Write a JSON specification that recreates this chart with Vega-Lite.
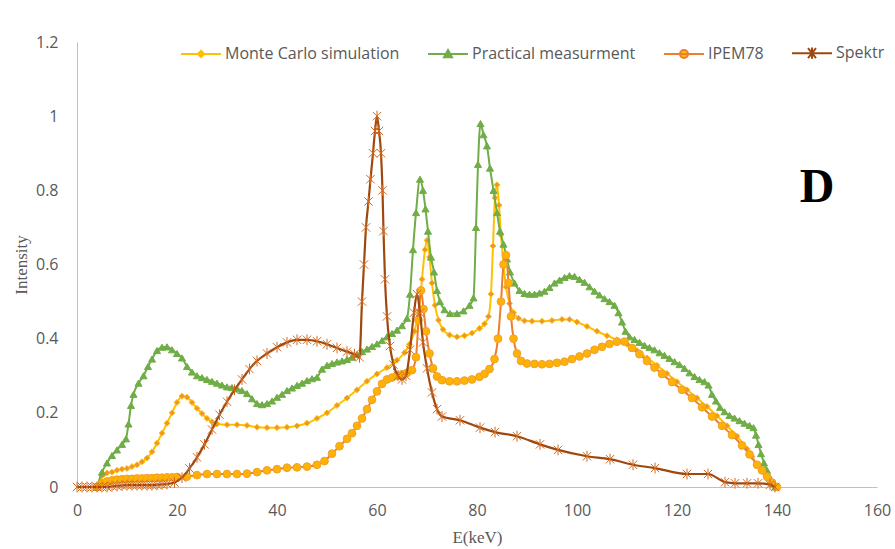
{
  "$schema": "https://vega.github.io/schema/vega-lite/v6.json",
  "width": 800,
  "height": 445,
  "autosize": {"type": "none"},
  "padding": {"left": 77, "top": 42, "right": 18, "bottom": 62},
  "background": "white",
  "config": {"view": {"stroke": null}, "font": "Open Sans"},
  "data": {"values": [
    {"s":"Monte Carlo simulation","E":4,"I":0},{"s":"Monte Carlo simulation","E":5,"I":0.03},{"s":"Monte Carlo simulation","E":6,"I":0.038},{"s":"Monte Carlo simulation","E":7,"I":0.04},{"s":"Monte Carlo simulation","E":8,"I":0.045},{"s":"Monte Carlo simulation","E":9,"I":0.048},{"s":"Monte Carlo simulation","E":10,"I":0.05},{"s":"Monte Carlo simulation","E":11,"I":0.055},{"s":"Monte Carlo simulation","E":12,"I":0.06},{"s":"Monte Carlo simulation","E":13,"I":0.068},{"s":"Monte Carlo simulation","E":14,"I":0.078},{"s":"Monte Carlo simulation","E":15,"I":0.095},{"s":"Monte Carlo simulation","E":16,"I":0.118},{"s":"Monte Carlo simulation","E":17,"I":0.145},{"s":"Monte Carlo simulation","E":18,"I":0.172},{"s":"Monte Carlo simulation","E":19,"I":0.2},{"s":"Monte Carlo simulation","E":20,"I":0.228},{"s":"Monte Carlo simulation","E":21,"I":0.245},{"s":"Monte Carlo simulation","E":22,"I":0.242},{"s":"Monte Carlo simulation","E":23,"I":0.228},{"s":"Monte Carlo simulation","E":24,"I":0.212},{"s":"Monte Carlo simulation","E":25,"I":0.198},{"s":"Monte Carlo simulation","E":26,"I":0.185},{"s":"Monte Carlo simulation","E":27,"I":0.176},{"s":"Monte Carlo simulation","E":28,"I":0.17},{"s":"Monte Carlo simulation","E":30,"I":0.168},{"s":"Monte Carlo simulation","E":32,"I":0.168},{"s":"Monte Carlo simulation","E":34,"I":0.166},{"s":"Monte Carlo simulation","E":36,"I":0.161},{"s":"Monte Carlo simulation","E":38,"I":0.16},{"s":"Monte Carlo simulation","E":40,"I":0.16},{"s":"Monte Carlo simulation","E":42,"I":0.161},{"s":"Monte Carlo simulation","E":44,"I":0.165},{"s":"Monte Carlo simulation","E":46,"I":0.172},{"s":"Monte Carlo simulation","E":48,"I":0.185},{"s":"Monte Carlo simulation","E":50,"I":0.2},{"s":"Monte Carlo simulation","E":52,"I":0.22},{"s":"Monte Carlo simulation","E":54,"I":0.24},{"s":"Monte Carlo simulation","E":56,"I":0.262},{"s":"Monte Carlo simulation","E":58,"I":0.285},{"s":"Monte Carlo simulation","E":60,"I":0.305},{"s":"Monte Carlo simulation","E":62,"I":0.322},{"s":"Monte Carlo simulation","E":64,"I":0.342},{"s":"Monte Carlo simulation","E":65.5,"I":0.362},{"s":"Monte Carlo simulation","E":66.5,"I":0.385},{"s":"Monte Carlo simulation","E":67.5,"I":0.42},{"s":"Monte Carlo simulation","E":68.3,"I":0.47},{"s":"Monte Carlo simulation","E":69,"I":0.56},{"s":"Monte Carlo simulation","E":69.6,"I":0.64},{"s":"Monte Carlo simulation","E":70,"I":0.665},{"s":"Monte Carlo simulation","E":70.5,"I":0.62},{"s":"Monte Carlo simulation","E":71,"I":0.55},{"s":"Monte Carlo simulation","E":71.6,"I":0.49},{"s":"Monte Carlo simulation","E":72.3,"I":0.45},{"s":"Monte Carlo simulation","E":73.2,"I":0.425},{"s":"Monte Carlo simulation","E":74.5,"I":0.41},{"s":"Monte Carlo simulation","E":76,"I":0.405},{"s":"Monte Carlo simulation","E":77.5,"I":0.408},{"s":"Monte Carlo simulation","E":79,"I":0.415},{"s":"Monte Carlo simulation","E":80.5,"I":0.428},{"s":"Monte Carlo simulation","E":81.5,"I":0.44},{"s":"Monte Carlo simulation","E":82.3,"I":0.46},{"s":"Monte Carlo simulation","E":82.8,"I":0.52},{"s":"Monte Carlo simulation","E":83.2,"I":0.65},{"s":"Monte Carlo simulation","E":83.6,"I":0.78},{"s":"Monte Carlo simulation","E":84,"I":0.815},{"s":"Monte Carlo simulation","E":84.4,"I":0.76},{"s":"Monte Carlo simulation","E":84.8,"I":0.68},{"s":"Monte Carlo simulation","E":85.3,"I":0.6},{"s":"Monte Carlo simulation","E":85.8,"I":0.54},{"s":"Monte Carlo simulation","E":86.5,"I":0.495},{"s":"Monte Carlo simulation","E":87.3,"I":0.47},{"s":"Monte Carlo simulation","E":88.3,"I":0.455},{"s":"Monte Carlo simulation","E":89.5,"I":0.448},{"s":"Monte Carlo simulation","E":91,"I":0.447},{"s":"Monte Carlo simulation","E":93,"I":0.447},{"s":"Monte Carlo simulation","E":95,"I":0.449},{"s":"Monte Carlo simulation","E":97,"I":0.452},{"s":"Monte Carlo simulation","E":98.5,"I":0.452},{"s":"Monte Carlo simulation","E":100,"I":0.445},{"s":"Monte Carlo simulation","E":102,"I":0.433},{"s":"Monte Carlo simulation","E":104,"I":0.42},{"s":"Monte Carlo simulation","E":106,"I":0.408},{"s":"Monte Carlo simulation","E":108,"I":0.397},{"s":"Monte Carlo simulation","E":110,"I":0.385},{"s":"Monte Carlo simulation","E":112,"I":0.368},{"s":"Monte Carlo simulation","E":114,"I":0.348},{"s":"Monte Carlo simulation","E":116,"I":0.328},{"s":"Monte Carlo simulation","E":118,"I":0.306},{"s":"Monte Carlo simulation","E":120,"I":0.284},{"s":"Monte Carlo simulation","E":122,"I":0.262},{"s":"Monte Carlo simulation","E":124,"I":0.24},{"s":"Monte Carlo simulation","E":126,"I":0.217},{"s":"Monte Carlo simulation","E":128,"I":0.192},{"s":"Monte Carlo simulation","E":130,"I":0.165},{"s":"Monte Carlo simulation","E":132,"I":0.137},{"s":"Monte Carlo simulation","E":134,"I":0.103},{"s":"Monte Carlo simulation","E":135,"I":0.082},{"s":"Monte Carlo simulation","E":136,"I":0.06},{"s":"Monte Carlo simulation","E":137,"I":0.042},{"s":"Monte Carlo simulation","E":138,"I":0.024},{"s":"Monte Carlo simulation","E":139,"I":0.009},{"s":"Monte Carlo simulation","E":140,"I":0},
    {"s":"Practical measurment","E":4,"I":0},{"s":"Practical measurment","E":5,"I":0.04},{"s":"Practical measurment","E":6,"I":0.065},{"s":"Practical measurment","E":7,"I":0.085},{"s":"Practical measurment","E":8,"I":0.1},{"s":"Practical measurment","E":9,"I":0.115},{"s":"Practical measurment","E":9.8,"I":0.13},{"s":"Practical measurment","E":10.3,"I":0.17},{"s":"Practical measurment","E":10.8,"I":0.22},{"s":"Practical measurment","E":11.3,"I":0.25},{"s":"Practical measurment","E":12.3,"I":0.28},{"s":"Practical measurment","E":13.3,"I":0.3},{"s":"Practical measurment","E":14.2,"I":0.325},{"s":"Practical measurment","E":15,"I":0.345},{"s":"Practical measurment","E":16,"I":0.368},{"s":"Practical measurment","E":17,"I":0.377},{"s":"Practical measurment","E":18,"I":0.378},{"s":"Practical measurment","E":19,"I":0.37},{"s":"Practical measurment","E":20,"I":0.36},{"s":"Practical measurment","E":21,"I":0.348},{"s":"Practical measurment","E":22,"I":0.325},{"s":"Practical measurment","E":23,"I":0.31},{"s":"Practical measurment","E":24,"I":0.3},{"s":"Practical measurment","E":25,"I":0.295},{"s":"Practical measurment","E":26,"I":0.29},{"s":"Practical measurment","E":27,"I":0.285},{"s":"Practical measurment","E":28,"I":0.28},{"s":"Practical measurment","E":29,"I":0.275},{"s":"Practical measurment","E":30,"I":0.27},{"s":"Practical measurment","E":31,"I":0.268},{"s":"Practical measurment","E":32,"I":0.265},{"s":"Practical measurment","E":33,"I":0.26},{"s":"Practical measurment","E":34,"I":0.252},{"s":"Practical measurment","E":35,"I":0.238},{"s":"Practical measurment","E":36,"I":0.225},{"s":"Practical measurment","E":37,"I":0.222},{"s":"Practical measurment","E":38,"I":0.225},{"s":"Practical measurment","E":39,"I":0.232},{"s":"Practical measurment","E":40,"I":0.242},{"s":"Practical measurment","E":41,"I":0.25},{"s":"Practical measurment","E":42,"I":0.26},{"s":"Practical measurment","E":43,"I":0.267},{"s":"Practical measurment","E":44,"I":0.274},{"s":"Practical measurment","E":45,"I":0.28},{"s":"Practical measurment","E":46,"I":0.287},{"s":"Practical measurment","E":47,"I":0.292},{"s":"Practical measurment","E":48,"I":0.296},{"s":"Practical measurment","E":49,"I":0.318},{"s":"Practical measurment","E":50,"I":0.328},{"s":"Practical measurment","E":51,"I":0.333},{"s":"Practical measurment","E":52,"I":0.337},{"s":"Practical measurment","E":53,"I":0.34},{"s":"Practical measurment","E":54,"I":0.344},{"s":"Practical measurment","E":55,"I":0.35},{"s":"Practical measurment","E":56,"I":0.357},{"s":"Practical measurment","E":57,"I":0.365},{"s":"Practical measurment","E":58,"I":0.372},{"s":"Practical measurment","E":59,"I":0.379},{"s":"Practical measurment","E":60,"I":0.386},{"s":"Practical measurment","E":61,"I":0.395},{"s":"Practical measurment","E":62,"I":0.405},{"s":"Practical measurment","E":63,"I":0.414},{"s":"Practical measurment","E":64,"I":0.423},{"s":"Practical measurment","E":65,"I":0.435},{"s":"Practical measurment","E":66,"I":0.455},{"s":"Practical measurment","E":66.6,"I":0.52},{"s":"Practical measurment","E":67.2,"I":0.64},{"s":"Practical measurment","E":67.8,"I":0.74},{"s":"Practical measurment","E":68.6,"I":0.83},{"s":"Practical measurment","E":69.2,"I":0.8},{"s":"Practical measurment","E":69.7,"I":0.75},{"s":"Practical measurment","E":70.2,"I":0.69},{"s":"Practical measurment","E":70.8,"I":0.62},{"s":"Practical measurment","E":71.4,"I":0.58},{"s":"Practical measurment","E":72,"I":0.53},{"s":"Practical measurment","E":72.6,"I":0.5},{"s":"Practical measurment","E":73.5,"I":0.478},{"s":"Practical measurment","E":74.6,"I":0.468},{"s":"Practical measurment","E":76,"I":0.468},{"s":"Practical measurment","E":77.3,"I":0.475},{"s":"Practical measurment","E":78.5,"I":0.49},{"s":"Practical measurment","E":79.3,"I":0.51},{"s":"Practical measurment","E":79.8,"I":0.7},{"s":"Practical measurment","E":80.2,"I":0.87},{"s":"Practical measurment","E":80.7,"I":0.98},{"s":"Practical measurment","E":81.3,"I":0.95},{"s":"Practical measurment","E":82,"I":0.92},{"s":"Practical measurment","E":82.6,"I":0.86},{"s":"Practical measurment","E":83.3,"I":0.8},{"s":"Practical measurment","E":84,"I":0.74},{"s":"Practical measurment","E":84.6,"I":0.69},{"s":"Practical measurment","E":85.3,"I":0.655},{"s":"Practical measurment","E":86,"I":0.615},{"s":"Practical measurment","E":86.6,"I":0.58},{"s":"Practical measurment","E":87.5,"I":0.55},{"s":"Practical measurment","E":88.5,"I":0.53},{"s":"Practical measurment","E":89.5,"I":0.522},{"s":"Practical measurment","E":90.5,"I":0.52},{"s":"Practical measurment","E":91.5,"I":0.52},{"s":"Practical measurment","E":92.5,"I":0.523},{"s":"Practical measurment","E":93.5,"I":0.528},{"s":"Practical measurment","E":94.5,"I":0.538},{"s":"Practical measurment","E":95.5,"I":0.55},{"s":"Practical measurment","E":96.5,"I":0.558},{"s":"Practical measurment","E":97.5,"I":0.565},{"s":"Practical measurment","E":98.5,"I":0.57},{"s":"Practical measurment","E":99.5,"I":0.568},{"s":"Practical measurment","E":100.5,"I":0.56},{"s":"Practical measurment","E":101.5,"I":0.552},{"s":"Practical measurment","E":102.5,"I":0.54},{"s":"Practical measurment","E":103.5,"I":0.528},{"s":"Practical measurment","E":104.5,"I":0.518},{"s":"Practical measurment","E":105.5,"I":0.508},{"s":"Practical measurment","E":106.5,"I":0.5},{"s":"Practical measurment","E":107.5,"I":0.49},{"s":"Practical measurment","E":108.3,"I":0.47},{"s":"Practical measurment","E":109,"I":0.445},{"s":"Practical measurment","E":109.7,"I":0.42},{"s":"Practical measurment","E":110.5,"I":0.405},{"s":"Practical measurment","E":111.5,"I":0.398},{"s":"Practical measurment","E":112.5,"I":0.39},{"s":"Practical measurment","E":113.5,"I":0.382},{"s":"Practical measurment","E":114.5,"I":0.376},{"s":"Practical measurment","E":115.5,"I":0.37},{"s":"Practical measurment","E":116.5,"I":0.362},{"s":"Practical measurment","E":117.5,"I":0.355},{"s":"Practical measurment","E":118.5,"I":0.347},{"s":"Practical measurment","E":119.5,"I":0.338},{"s":"Practical measurment","E":120.5,"I":0.33},{"s":"Practical measurment","E":121.5,"I":0.32},{"s":"Practical measurment","E":122.5,"I":0.308},{"s":"Practical measurment","E":123.5,"I":0.298},{"s":"Practical measurment","E":124.5,"I":0.29},{"s":"Practical measurment","E":125.5,"I":0.284},{"s":"Practical measurment","E":126.3,"I":0.275},{"s":"Practical measurment","E":127,"I":0.25},{"s":"Practical measurment","E":127.8,"I":0.232},{"s":"Practical measurment","E":128.6,"I":0.215},{"s":"Practical measurment","E":129.5,"I":0.203},{"s":"Practical measurment","E":130.5,"I":0.193},{"s":"Practical measurment","E":131.5,"I":0.186},{"s":"Practical measurment","E":132.5,"I":0.179},{"s":"Practical measurment","E":133.5,"I":0.172},{"s":"Practical measurment","E":134.5,"I":0.166},{"s":"Practical measurment","E":135.3,"I":0.16},{"s":"Practical measurment","E":135.8,"I":0.14},{"s":"Practical measurment","E":136.3,"I":0.115},{"s":"Practical measurment","E":136.8,"I":0.09},{"s":"Practical measurment","E":137.4,"I":0.065},{"s":"Practical measurment","E":138,"I":0.045},{"s":"Practical measurment","E":138.6,"I":0.025},{"s":"Practical measurment","E":139.2,"I":0.01},{"s":"Practical measurment","E":139.7,"I":0},
    {"s":"IPEM78","E":4,"I":0},{"s":"IPEM78","E":5,"I":0.01},{"s":"IPEM78","E":6,"I":0.015},{"s":"IPEM78","E":7,"I":0.018},{"s":"IPEM78","E":8,"I":0.02},{"s":"IPEM78","E":9,"I":0.021},{"s":"IPEM78","E":10,"I":0.022},{"s":"IPEM78","E":11,"I":0.022},{"s":"IPEM78","E":12,"I":0.023},{"s":"IPEM78","E":13,"I":0.023},{"s":"IPEM78","E":14,"I":0.024},{"s":"IPEM78","E":15,"I":0.024},{"s":"IPEM78","E":16,"I":0.025},{"s":"IPEM78","E":17,"I":0.025},{"s":"IPEM78","E":18,"I":0.026},{"s":"IPEM78","E":19,"I":0.026},{"s":"IPEM78","E":20,"I":0.027},{"s":"IPEM78","E":22,"I":0.028},{"s":"IPEM78","E":24,"I":0.032},{"s":"IPEM78","E":26,"I":0.035},{"s":"IPEM78","E":28,"I":0.035},{"s":"IPEM78","E":30,"I":0.035},{"s":"IPEM78","E":32,"I":0.035},{"s":"IPEM78","E":34,"I":0.036},{"s":"IPEM78","E":36,"I":0.04},{"s":"IPEM78","E":38,"I":0.045},{"s":"IPEM78","E":40,"I":0.048},{"s":"IPEM78","E":42,"I":0.052},{"s":"IPEM78","E":44,"I":0.053},{"s":"IPEM78","E":46,"I":0.055},{"s":"IPEM78","E":48,"I":0.06},{"s":"IPEM78","E":49.5,"I":0.07},{"s":"IPEM78","E":51,"I":0.09},{"s":"IPEM78","E":52.5,"I":0.11},{"s":"IPEM78","E":54,"I":0.13},{"s":"IPEM78","E":55,"I":0.145},{"s":"IPEM78","E":56,"I":0.165},{"s":"IPEM78","E":57,"I":0.185},{"s":"IPEM78","E":58,"I":0.21},{"s":"IPEM78","E":59,"I":0.235},{"s":"IPEM78","E":60,"I":0.258},{"s":"IPEM78","E":61,"I":0.278},{"s":"IPEM78","E":62,"I":0.29},{"s":"IPEM78","E":63,"I":0.295},{"s":"IPEM78","E":64,"I":0.3},{"s":"IPEM78","E":65,"I":0.304},{"s":"IPEM78","E":66,"I":0.308},{"s":"IPEM78","E":67,"I":0.315},{"s":"IPEM78","E":67.8,"I":0.35},{"s":"IPEM78","E":68.3,"I":0.45},{"s":"IPEM78","E":68.8,"I":0.53},{"s":"IPEM78","E":69.3,"I":0.48},{"s":"IPEM78","E":69.8,"I":0.42},{"s":"IPEM78","E":70.5,"I":0.36},{"s":"IPEM78","E":71.2,"I":0.32},{"s":"IPEM78","E":72,"I":0.298},{"s":"IPEM78","E":73,"I":0.288},{"s":"IPEM78","E":74.5,"I":0.285},{"s":"IPEM78","E":76,"I":0.285},{"s":"IPEM78","E":77.5,"I":0.287},{"s":"IPEM78","E":79,"I":0.29},{"s":"IPEM78","E":80.5,"I":0.297},{"s":"IPEM78","E":81.5,"I":0.305},{"s":"IPEM78","E":82.5,"I":0.318},{"s":"IPEM78","E":83.5,"I":0.345},{"s":"IPEM78","E":84.2,"I":0.4},{"s":"IPEM78","E":84.8,"I":0.5},{"s":"IPEM78","E":85.3,"I":0.6},{"s":"IPEM78","E":85.8,"I":0.625},{"s":"IPEM78","E":86.3,"I":0.55},{"s":"IPEM78","E":86.8,"I":0.46},{"s":"IPEM78","E":87.3,"I":0.4},{"s":"IPEM78","E":88,"I":0.36},{"s":"IPEM78","E":88.8,"I":0.34},{"s":"IPEM78","E":90,"I":0.333},{"s":"IPEM78","E":91.5,"I":0.332},{"s":"IPEM78","E":93,"I":0.331},{"s":"IPEM78","E":94.5,"I":0.332},{"s":"IPEM78","E":96,"I":0.335},{"s":"IPEM78","E":97.5,"I":0.338},{"s":"IPEM78","E":99,"I":0.345},{"s":"IPEM78","E":100.5,"I":0.352},{"s":"IPEM78","E":102,"I":0.36},{"s":"IPEM78","E":103.5,"I":0.37},{"s":"IPEM78","E":105,"I":0.378},{"s":"IPEM78","E":106.5,"I":0.386},{"s":"IPEM78","E":108,"I":0.392},{"s":"IPEM78","E":109.5,"I":0.392},{"s":"IPEM78","E":111,"I":0.375},{"s":"IPEM78","E":112.5,"I":0.358},{"s":"IPEM78","E":114,"I":0.34},{"s":"IPEM78","E":115.5,"I":0.322},{"s":"IPEM78","E":117,"I":0.305},{"s":"IPEM78","E":119,"I":0.283},{"s":"IPEM78","E":121,"I":0.262},{"s":"IPEM78","E":123,"I":0.24},{"s":"IPEM78","E":125,"I":0.215},{"s":"IPEM78","E":127,"I":0.19},{"s":"IPEM78","E":129,"I":0.165},{"s":"IPEM78","E":131,"I":0.14},{"s":"IPEM78","E":133,"I":0.112},{"s":"IPEM78","E":134.5,"I":0.088},{"s":"IPEM78","E":136,"I":0.06},{"s":"IPEM78","E":137,"I":0.045},{"s":"IPEM78","E":138,"I":0.028},{"s":"IPEM78","E":139,"I":0.012},{"s":"IPEM78","E":140,"I":0},
    {"s":"Spektr","E":0,"I":0},{"s":"Spektr","E":1,"I":0},{"s":"Spektr","E":2,"I":0},{"s":"Spektr","E":3,"I":0},{"s":"Spektr","E":4,"I":0},{"s":"Spektr","E":5,"I":0},{"s":"Spektr","E":6,"I":0},{"s":"Spektr","E":7,"I":0.002},{"s":"Spektr","E":8,"I":0.003},{"s":"Spektr","E":9,"I":0.004},{"s":"Spektr","E":10,"I":0.005},{"s":"Spektr","E":11,"I":0.005},{"s":"Spektr","E":12,"I":0.005},{"s":"Spektr","E":13,"I":0.005},{"s":"Spektr","E":14,"I":0.005},{"s":"Spektr","E":15,"I":0.005},{"s":"Spektr","E":16,"I":0.006},{"s":"Spektr","E":17,"I":0.007},{"s":"Spektr","E":18,"I":0.008},{"s":"Spektr","E":19.5,"I":0.012},{"s":"Spektr","E":21,"I":0.025},{"s":"Spektr","E":22.5,"I":0.05},{"s":"Spektr","E":24,"I":0.08},{"s":"Spektr","E":25.5,"I":0.115},{"s":"Spektr","E":27,"I":0.155},{"s":"Spektr","E":28.5,"I":0.195},{"s":"Spektr","E":30,"I":0.23},{"s":"Spektr","E":31.5,"I":0.262},{"s":"Spektr","E":33,"I":0.29},{"s":"Spektr","E":34.5,"I":0.318},{"s":"Spektr","E":36,"I":0.34},{"s":"Spektr","E":38,"I":0.36},{"s":"Spektr","E":40,"I":0.377},{"s":"Spektr","E":42,"I":0.39},{"s":"Spektr","E":44,"I":0.397},{"s":"Spektr","E":46,"I":0.397},{"s":"Spektr","E":48,"I":0.393},{"s":"Spektr","E":50,"I":0.385},{"s":"Spektr","E":52,"I":0.375},{"s":"Spektr","E":54,"I":0.365},{"s":"Spektr","E":55.5,"I":0.358},{"s":"Spektr","E":56.5,"I":0.35},{"s":"Spektr","E":57,"I":0.5},{"s":"Spektr","E":57.4,"I":0.6},{"s":"Spektr","E":57.8,"I":0.7},{"s":"Spektr","E":58.3,"I":0.77},{"s":"Spektr","E":58.7,"I":0.83},{"s":"Spektr","E":59.2,"I":0.9},{"s":"Spektr","E":59.6,"I":0.96},{"s":"Spektr","E":60,"I":1.0},{"s":"Spektr","E":60.4,"I":0.96},{"s":"Spektr","E":60.8,"I":0.9},{"s":"Spektr","E":61.1,"I":0.8},{"s":"Spektr","E":61.3,"I":0.69},{"s":"Spektr","E":61.6,"I":0.56},{"s":"Spektr","E":62,"I":0.46},{"s":"Spektr","E":62.6,"I":0.38},{"s":"Spektr","E":63.3,"I":0.33},{"s":"Spektr","E":64.2,"I":0.3},{"s":"Spektr","E":65,"I":0.29},{"s":"Spektr","E":65.8,"I":0.3},{"s":"Spektr","E":66.6,"I":0.37},{"s":"Spektr","E":67.4,"I":0.47},{"s":"Spektr","E":68,"I":0.52},{"s":"Spektr","E":68.6,"I":0.47},{"s":"Spektr","E":69.2,"I":0.39},{"s":"Spektr","E":70,"I":0.32},{"s":"Spektr","E":71,"I":0.255},{"s":"Spektr","E":72,"I":0.21},{"s":"Spektr","E":73,"I":0.19},{"s":"Spektr","E":76.6,"I":0.18},{"s":"Spektr","E":80.6,"I":0.16},{"s":"Spektr","E":83.6,"I":0.148},{"s":"Spektr","E":88,"I":0.137},{"s":"Spektr","E":92.6,"I":0.115},{"s":"Spektr","E":96.2,"I":0.1},{"s":"Spektr","E":102,"I":0.083},{"s":"Spektr","E":106.6,"I":0.075},{"s":"Spektr","E":111.2,"I":0.06},{"s":"Spektr","E":115.6,"I":0.051},{"s":"Spektr","E":122,"I":0.035},{"s":"Spektr","E":126.2,"I":0.035},{"s":"Spektr","E":129.6,"I":0.013},{"s":"Spektr","E":131.6,"I":0.01},{"s":"Spektr","E":134,"I":0.01},{"s":"Spektr","E":136.2,"I":0.01},{"s":"Spektr","E":138.6,"I":0.006},{"s":"Spektr","E":139.6,"I":0}
  ]},
  "encoding": {
    "x": {"field": "E", "type": "quantitative",
      "scale": {"domain": [0, 160], "nice": false, "zero": false},
      "axis": {"values": [0,20,40,60,80,100,120,140,160], "grid": false, "ticks": false, "tickSize": 0, "labelFlush": false,
        "domainColor": "#BFBFBF", "domainWidth": 1, "labelColor": "#595959", "labelFont": "Open Sans", "labelFontSize": 16,
        "labelPadding": 15, "title": "E(keV)", "titleFont": "Liberation Serif", "titleFontSize": 17, "titleFontWeight": "normal",
        "titleColor": "#595959", "titlePadding": 11}},
    "y": {"field": "I", "type": "quantitative",
      "scale": {"domain": [0, 1.2], "nice": false},
      "axis": {"values": [0,0.2,0.4,0.6,0.8,1,1.2], "format": "~g", "grid": false, "ticks": false, "tickSize": 0, "labelFlush": false,
        "domainColor": "#BFBFBF", "domainWidth": 1, "labelColor": "#595959", "labelFont": "Open Sans", "labelFontSize": 16,
        "labelPadding": 19, "title": "Intensity", "titleFont": "Liberation Serif", "titleFontSize": 17, "titleFontWeight": "normal",
        "titleColor": "#595959", "titlePadding": 5}}
  },
  "layer": [
    {
      "transform": [{"filter": "datum.s === 'Monte Carlo simulation'"}],
      "mark": {"type": "line", "interpolate": "monotone", "strokeWidth": 2},
      "encoding": {
        "color": {"field": "s", "type": "nominal",
          "scale": {"domain": ["Monte Carlo simulation", "Practical measurment", "IPEM78", "Spektr"],
                    "range": ["#FFC000", "#70AD47", "#ED7D31", "#9E480E"]},
          "legend": {"title": null, "orient": "none", "legendX": 103, "legendY": -10, "direction": "horizontal",
            "symbolSize": 1600, "symbolStrokeWidth": 2, "labelFont": "Open Sans", "labelFontSize": 16, "labelColor": "#595959",
            "labelOffset": 3, "labelLimit": 0, "columnPadding": 24, "padding": 0,
            "encode": {"symbols": {"update": {
              "shape": {"signal": "datum.value === 'Monte Carlo simulation' ? 'M-1,0H1M0,-0.16L0.16,0L0,0.16L-0.16,0Z' : datum.value === 'Practical measurment' ? 'M-1,0H1M0,-0.2L0.2,0.16L-0.2,0.16Z' : datum.value === 'IPEM78' ? 'M-1,0H1M0.2,0A0.2,0.2 0 1,1 -0.2,0A0.2,0.2 0 1,1 0.2,0Z' : 'M-1,0H1M-0.2,-0.25L0.2,0.25M-0.2,0.25L0.2,-0.25M0,-0.28V0.28'"},
              "fill": {"signal": "datum.value === 'Monte Carlo simulation' ? '#E98A2B' : datum.value === 'Practical measurment' ? '#70AD47' : datum.value === 'IPEM78' ? '#FFC000' : 'transparent'"},
              "size": {"value": 1600},
              "strokeWidth": {"value": 2},
              "opacity": {"value": 1}
            }}}}
        }
      }
    },
    {
      "transform": [{"filter": "datum.s === 'Monte Carlo simulation'"}],
      "mark": {"type": "point", "shape": "diamond", "filled": true, "fill": "#EE9430", "stroke": "#FFC000", "strokeWidth": 1, "size": 35, "opacity": 1}
    },
    {
      "transform": [{"filter": "datum.s === 'Practical measurment'"}],
      "mark": {"type": "line", "interpolate": "monotone", "strokeWidth": 2},
      "encoding": {"color": {"field": "s", "type": "nominal"}}
    },
    {
      "transform": [{"filter": "datum.s === 'Practical measurment'"}],
      "mark": {"type": "point", "shape": "triangle-up", "filled": true, "fill": "#70AD47", "stroke": "#70AD47", "strokeWidth": 1, "size": 50, "opacity": 1}
    },
    {
      "transform": [{"filter": "datum.s === 'IPEM78'"}],
      "mark": {"type": "line", "interpolate": "monotone", "strokeWidth": 2},
      "encoding": {"color": {"field": "s", "type": "nominal"}}
    },
    {
      "transform": [{"filter": "datum.s === 'IPEM78'"}],
      "mark": {"type": "point", "shape": "circle", "filled": true, "fill": "#FFB300", "stroke": "#F0A030", "strokeWidth": 1, "size": 60, "opacity": 1}
    },
    {
      "transform": [{"filter": "datum.s === 'Spektr'"}],
      "mark": {"type": "line", "interpolate": "monotone", "strokeWidth": 2.2},
      "encoding": {"color": {"field": "s", "type": "nominal"}}
    },
    {
      "transform": [{"filter": "datum.s === 'Spektr'"}],
      "mark": {"type": "point", "shape": "M-1,-1L1,1M-1,1L1,-1M0,-1.3L0,1.3", "filled": false, "stroke": "#D2691E", "strokeWidth": 1, "size": 70, "opacity": 1}
    },
    {
      "data": {"values": [{"label": "D", "E": 148, "I": 0.805}]},
      "mark": {"type": "text", "font": "Liberation Serif", "fontWeight": "bold", "fontSize": 48, "color": "#000000", "baseline": "middle", "align": "center"},
      "encoding": {"text": {"field": "label", "type": "nominal"}}
    }
  ]
}
